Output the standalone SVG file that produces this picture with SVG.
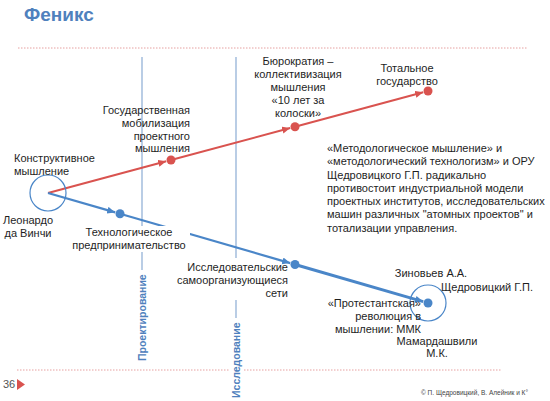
<svg xmlns="http://www.w3.org/2000/svg" width="550" height="401" viewBox="0 0 550 401">
<style>
text{font-family:"Liberation Sans",Arial,sans-serif}
.t{font-size:11px;fill:#1e1e1e}
.m{text-anchor:middle}
.e{text-anchor:end}
.title{font-size:19px;font-weight:bold;fill:#4f81bd}
.ax{font-size:10.5px;font-weight:bold;fill:#4f81bd}
.dot{stroke:#e6a0a0;stroke-width:1;stroke-dasharray:1.5 1.5;fill:none}
.vl{stroke:#95b3d7;stroke-width:1.3;fill:none}
.red{stroke:#d9534f;stroke-width:2;fill:none;marker-end:url(#ar)}
.blue{stroke:#4a86c8;stroke-width:2.2;fill:none;marker-end:url(#ab)}
.rd{fill:#d9534f}
.bd{fill:#4a86c8}
.ring{fill:none;stroke:#4a86c8;stroke-width:1.2}
</style>
<defs>
<marker id="ar" markerUnits="userSpaceOnUse" markerWidth="9" markerHeight="8" refX="8" refY="3.5" orient="auto"><path d="M0,0 L8,3.5 L0,7 z" fill="#d9534f"/></marker>
<marker id="ab" markerUnits="userSpaceOnUse" markerWidth="9" markerHeight="8" refX="8" refY="3.5" orient="auto"><path d="M0,0 L8,3.5 L0,7 z" fill="#4a86c8"/></marker>
</defs>
<rect width="550" height="401" fill="#ffffff"/>
<text class="title" x="24" y="21">Феникс</text>
<line class="dot" x1="18" y1="48" x2="528" y2="48"/>
<path class="dot" d="M17,370 H229 M244,370 H502"/>
<g id="axis-design">
<path class="vl" d="M142,57 V226 M142,250 V270"/>
<text class="ax" transform="translate(146,361) rotate(-90)">Проектирование</text>
</g>
<g id="axis-research">
<path class="vl" d="M236,57 V258 M236,300 V318"/>
<text class="ax" transform="translate(240,398) rotate(-90)">Исследование</text>
</g>
<g id="connectors">
<line class="red" x1="48" y1="193" x2="166.2" y2="161.3"/>
<line class="red" x1="171" y1="160" x2="290.2" y2="128"/>
<line class="red" x1="295" y1="126.7" x2="423.2" y2="92.3"/>
<line class="blue" x1="48" y1="193" x2="115.2" y2="212.4"/>
<line class="blue" x1="120" y1="213.8" x2="290.2" y2="263.1"/>
<line class="blue" x1="295" y1="264.5" x2="423.2" y2="301.6" style="stroke-width:3"/>
</g>
<g id="n-leonardo">
<circle class="ring" cx="48" cy="193" r="18"/>
<text class="t" x="14" y="162">Конструктивное</text>
<text class="t" x="14" y="175">мышление</text>
<text class="t m" x="28" y="224">Леонардо</text>
<text class="t m" x="28" y="237">да Винчи</text>
</g>
<g id="n-gos">
<circle class="rd" cx="171" cy="160" r="4.5"/>
<text class="t e" x="190" y="114">Государственная</text>
<text class="t e" x="190" y="127">мобилизация</text>
<text class="t e" x="190" y="140">проектного</text>
<text class="t e" x="190" y="152">мышления</text>
</g>
<g id="n-buro">
<circle class="rd" cx="295" cy="126.7" r="4.5"/>
<text class="t m" x="298" y="65">Бюрократия –</text>
<text class="t m" x="298" y="78">коллективизация</text>
<text class="t m" x="298" y="91">мышления</text>
<text class="t m" x="298" y="104">«10 лет за</text>
<text class="t m" x="298" y="117">колоски»</text>
</g>
<g id="n-total">
<circle class="rd" cx="428" cy="91" r="4.5"/>
<text class="t m" x="407" y="72">Тотальное</text>
<text class="t m" x="407" y="85">государство</text>
</g>
<g id="n-tech">
<circle class="bd" cx="120" cy="213.8" r="4.5"/>
<rect x="72" y="226" width="118" height="26" fill="#ffffff"/>
<text class="t m" x="129" y="236">Технологическое</text>
<text class="t m" x="129" y="249">предпринимательство</text>
</g>
<g id="n-research">
<circle class="bd" cx="295" cy="264.5" r="4.5"/>
<text class="t e" x="288" y="271">Исследовательские</text>
<text class="t e" x="288" y="284">самоорганизующиеся</text>
<text class="t e" x="288" y="297">сети</text>
</g>
<g id="n-mmk">
<circle class="ring" cx="428" cy="303" r="18"/>
<circle class="bd" cx="428" cy="303" r="4.5"/>
<text class="t m" x="431" y="277">Зиновьев А.А.</text>
<text class="t m" x="487" y="291">Щедровицкий Г.П.</text>
<text class="t e" x="421" y="307">«Протестантская»</text>
<text class="t e" x="421" y="320">революция в</text>
<text class="t e" x="421" y="333">мышлении: ММК</text>
<text class="t m" x="437" y="345">Мамардашвили</text>
<text class="t m" x="437" y="357">М.К.</text>
</g>
<g id="note">
<text class="t" x="327" y="152">«Методологическое мышление» и</text>
<text class="t" x="327" y="165">«методологический технологизм» и ОРУ</text>
<text class="t" x="327" y="179">Щедровицкого Г.П. радикально</text>
<text class="t" x="327" y="192">противостоит индустриальной модели</text>
<text class="t" x="327" y="205">проектных институтов, исследовательских</text>
<text class="t" x="327" y="218">машин различных "атомных проектов" и</text>
<text class="t" x="327" y="232">тотализации управления.</text>
</g>
<g id="footer">
<text x="3" y="388" style="font-size:11px;fill:#555555">36</text>
<path d="M17,379 L25,384.5 L17,390 z" fill="#d9534f"/>
<text x="421" y="395" style="font-size:6.5px;fill:#444444">© П. Щедровицкий, В. Алейник и К°</text>
</g>
</svg>
